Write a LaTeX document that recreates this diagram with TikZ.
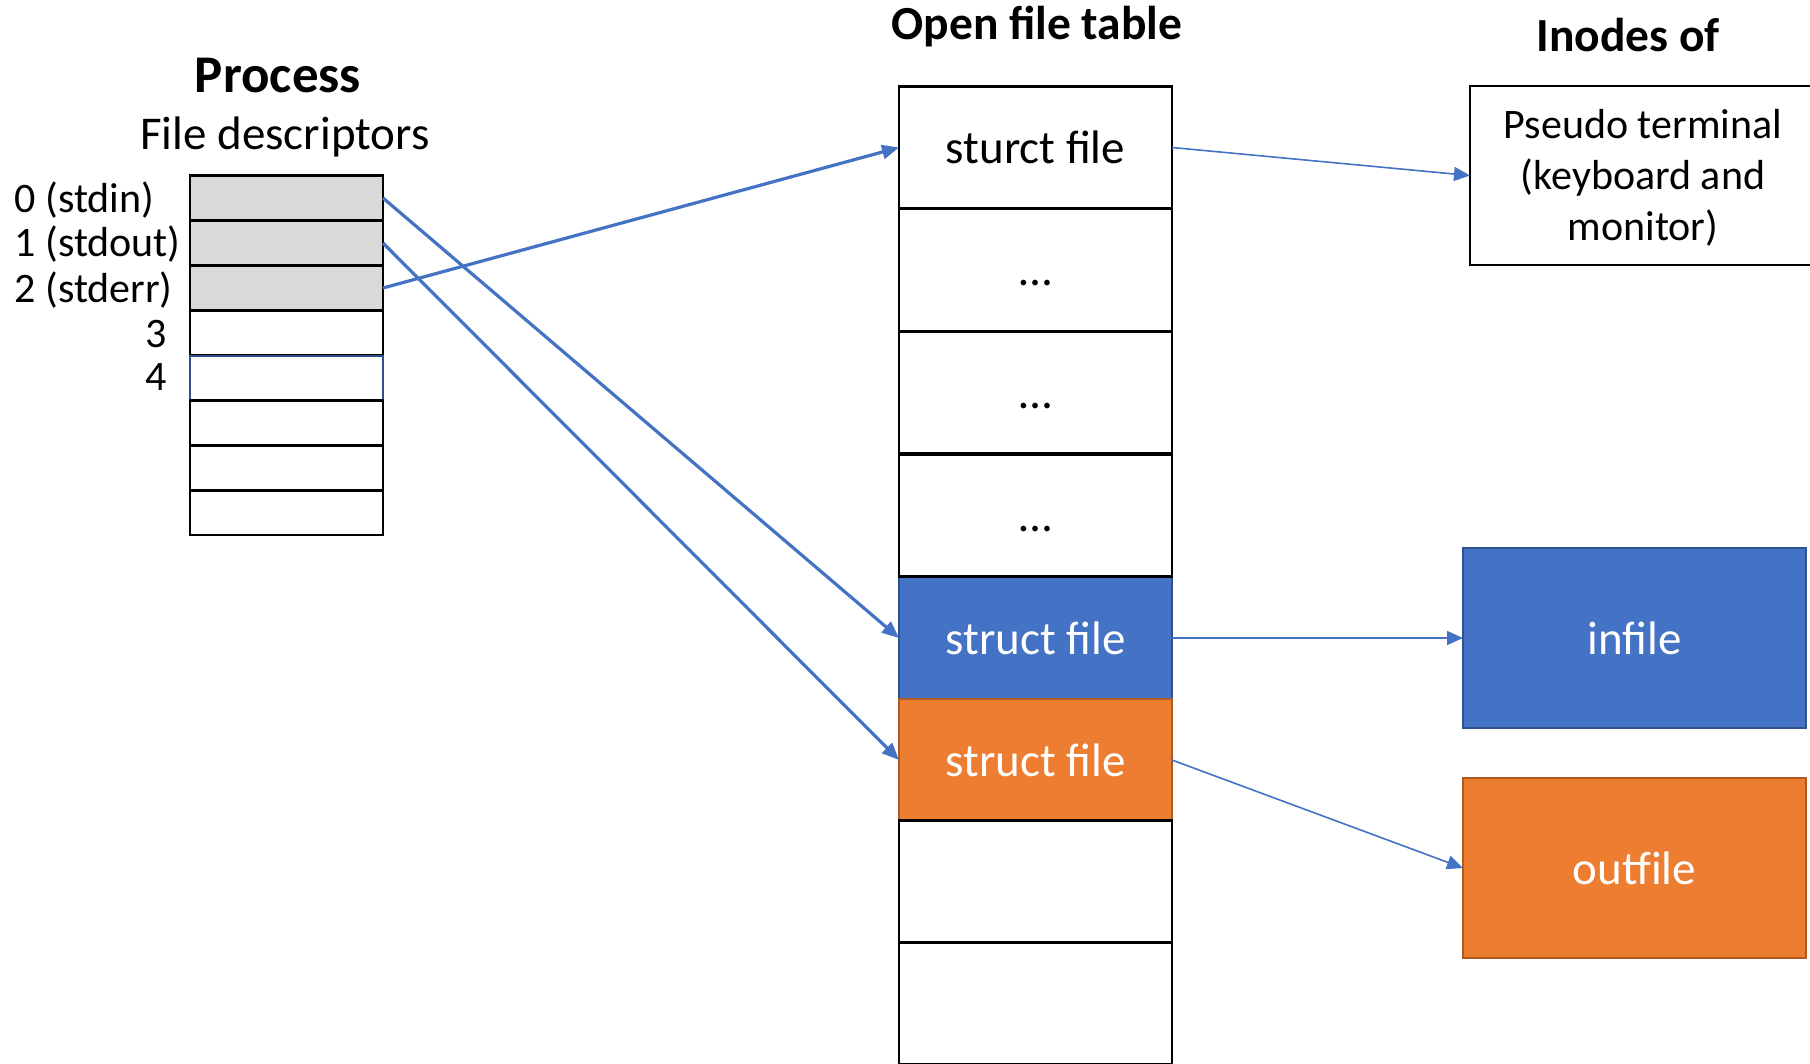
\documentclass[tikz,border=0pt]{standalone}
\usepackage{fontspec}
\setmainfont{Carlito}
\usetikzlibrary{arrows.meta}

\definecolor{fileblue}{HTML}{4472C4}
\definecolor{fileblueedge}{HTML}{2F528F}
\definecolor{fileorange}{HTML}{ED7D31}
\definecolor{fileorangeedge}{HTML}{AE5A21}
\definecolor{fdgray}{HTML}{D9D9D9}
\definecolor{linkblue}{HTML}{4472C4}

\tikzset{
  fdcell/.style={draw=black, line width=2.5pt, minimum width=193pt,
    minimum height=44.8pt, inner sep=0pt, outer sep=0pt},
  ofcell/.style={draw=black, line width=2.5pt, minimum width=273pt,
    minimum height=122.25pt, inner sep=0pt, outer sep=0pt,
    font=\fontsize{47}{56}\selectfont, text height=32pt, text depth=0pt},
  inodebox/.style={line width=2pt, minimum width=343pt, minimum height=180pt,
    inner sep=0pt, outer sep=0pt, text=white,
    font=\fontsize{47}{56}\selectfont, text height=32pt, text depth=0pt},
  heading/.style={anchor=base, font=\bfseries\fontsize{47.5}{56}\selectfont},
  fdlabel/.style={font=\fontsize{42}{50}\selectfont},
  fdarrow/.style={draw=linkblue, line width=3.2pt,
    -{Triangle[length=17pt, width=14pt]}},
  inodearrow/.style={draw=linkblue, line width=1.6pt,
    -{Triangle[length=16pt, width=14pt]}},
}

\begin{document}
\begin{tikzpicture}[x=1pt, y=-1pt]
  \useasboundingbox (0,0) rectangle (1810,1064);

  % headings
  \node[heading, font=\bfseries\fontsize{53}{60}\selectfont] (proc) at (278,93) {Process};
  \node[anchor=base, font=\fontsize{47}{56}\selectfont] (fdtitle) at (285,150) {File descriptors};
  \node[heading] (oftitle) at (1037,40) {Open file table};
  \node[heading] (inodetitle) at (1628,52) {Inodes of};

  % file descriptor table
  \node[fdcell, fill=fdgray] (fd0) at (286.5,198) {};
  \node[fdcell, fill=fdgray] (fd1) at (286.5,243) {};
  \node[fdcell, fill=fdgray] (fd2) at (286.5,288) {};
  \node[fdcell] (fd3) at (286.5,333) {};
  \node[fdcell, draw=fileblueedge, line width=2pt] (fd4) at (286.5,378) {};
  \node[fdcell] (fd5) at (286.5,423) {};
  \node[fdcell] (fd6) at (286.5,468) {};
  \node[fdcell] (fd7) at (286.5,512.5) {};

  % descriptor numbers
  \node[fdlabel, anchor=base west] (l0) at (11,213) {0 (stdin)};
  \node[fdlabel, anchor=base west] (l1) at (11,257) {1 (stdout)};
  \node[fdlabel, anchor=base west] (l2) at (11,303) {2 (stderr)};
  \node[fdlabel, anchor=base east] (l3) at (170,348) {3};
  \node[fdlabel, anchor=base east] (l4) at (170,391) {4};

  % open file table: coloured entries first, plain entries on top
  \node[ofcell, fill=fileblue, draw=fileblueedge, text=white] (of5) at (1035.5,638) {struct file};
  \node[ofcell, fill=fileorange, draw=fileorangeedge, text=white] (of6) at (1035.5,760) {struct file};
  \node[ofcell] (of1) at (1035.5,147.5) {sturct file};
  \node[ofcell] (of2) at (1035.5,270) {…};
  \node[ofcell] (of3) at (1035.5,392.5) {…};
  \node[ofcell] (of4) at (1035.5,515.5) {…};
  \node[ofcell] (of7) at (1035.5,881.5) {};
  \node[ofcell] (of8) at (1035.5,1003.5) {};

  % inodes
  \node[draw=black, line width=2.5pt, minimum width=346pt, minimum height=179pt,
        inner sep=0pt, outer sep=0pt] (pty) at (1643,175.5) {};
  \node[align=center, font=\fontsize{42}{51}\selectfont, inner sep=0pt]
        (ptytext) at ([yshift=-2.5pt]pty.center)
        {Pseudo terminal\\(keyboard and\\monitor)};
  \node[inodebox, fill=fileblue, draw=fileblueedge] (infile) at (1634.5,638) {infile};
  \node[inodebox, fill=fileorange, draw=fileorangeedge] (outfile) at (1634.5,868) {outfile};

  % descriptor -> open file entry
  \draw[fdarrow] (fd0.east) -- (of5.west);
  \draw[fdarrow] (fd1.east) -- (of6.west);
  \draw[fdarrow] (fd2.east) -- (of1.west);

  % open file entry -> inode
  \draw[inodearrow] (of1.east) -- (pty.west);
  \draw[inodearrow] (of5.east) -- (infile.west);
  \draw[inodearrow] (of6.east) -- (outfile.west);
\end{tikzpicture}
\end{document}
